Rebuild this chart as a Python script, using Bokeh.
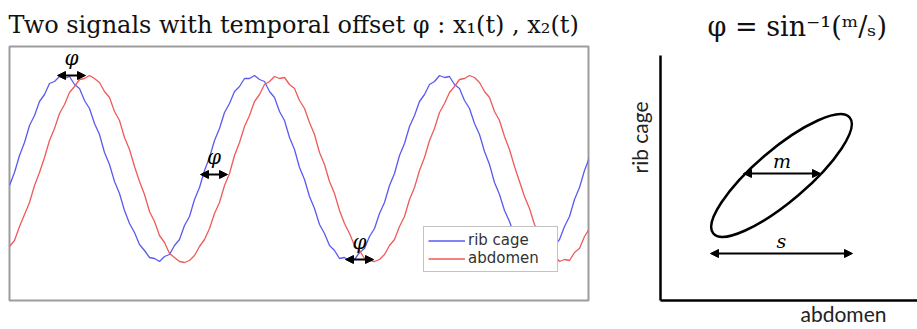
from math import pi
from bokeh.plotting import figure
from bokeh.models import Range1d, Label, Arrow, NormalHead, FixedTicker, Title
from bokeh.layouts import row
from bokeh.embed import file_html
from bokeh.resources import INLINE

# ---------------- data ----------------
# sample times (one sample every 5 time units)
t = list(range(0, 581, 5))

rib_cage = [
    -17, -4, 13, 26, 43, 53, 67, 74, 85, 87, 92, 90, 92, 84, 80, 68, 60, 45, 34, 16,
    4, -13, -25, -42, -55, -64, -76, -82, -89, -90, -93, -88, -86, -77, -71, -57, -48, -31,
    -19, -2, 11, 28, 40, 56, 65, 77, 82, 90, 90, 93, 89, 87, 77, 71, 57, 48, 31, 19,
    1, -11, -28, -40, -56, -65, -77, -82, -90, -89, -92, -91, -84, -80, -68, -60, -45, -34,
    -17, -5, 13, 25, 42, 53, 67, 74, 84, 87, 93, 91, 92, 84, 80, 68, 60, 45, 34, 17,
    4, -14, -26, -42, -53, -67, -74, -84, -87, -92, -90, -91, -86, -77, -71, -58, -48, -31,
    -19, -2, 11,
]

abdomen = [
    -78, -72, -58, -46, -34, -17, -4, 11, 28, 40, 55, 64, 76, 82, 89, 90, 93, 90, 86, 77,
    71, 57, 48, 31, 19, 2, -13, -26, -43, -53, -67, -74, -85, -89, -93, -94, -92, -87,
    -78, -71, -60, -45, -34, -17, -5, 13, 26, 42, 53, 67, 74, 84, 87, 92, 90, 91, 84, 80,
    68, 60, 46, 34, 16, 4, -13, -25, -42, -55, -65, -77, -82, -90, -92, -93, -91, -86,
    -77, -71, -58, -48, -31, -19, -2, 11, 28, 40, 56, 65, 76, 82, 89, 90, 93, 91, 86, 77,
    71, 57, 48, 32, 19, 2, -13, -28, -40, -56, -65, -76, -84, -87, -93, -91, -92, -84,
    -80, -68, -60,
]

# phase-offset markers on the time series: (t_start, t_end, level)
phi_marks = [(48, 76, 93), (191, 218, -6), (336, 364, -91)]

# Lissajous ellipse (abdomen vs rib cage) and its chords
ell_x, ell_y, ell_w, ell_h, ell_angle = 121, 125, 179, 52, 0.705
m_chord = (83, 160, 127)   # x0, x1, y
s_span = (50, 192, 47)     # x0, x1, y

BLUE = "#5a5af2"
RED = "#f05a5a"
SERIF = "DejaVu Serif"

# ---------------- left panel: time series ----------------
p = figure(width=600, height=329, output_backend="svg", toolbar_location=None,
           x_range=Range1d(0, 579), y_range=Range1d(-132, 122),
           x_axis_location=None, y_axis_location=None,
           min_border_left=9, min_border_right=12, min_border_top=46, min_border_bottom=29)
p.grid.visible = False
p.outline_line_color = "#9c9c9c"
p.outline_line_width = 2
p.background_fill_color = "white"
p.border_fill_color = "white"

p.title.text = "Two signals with temporal offset φ : x₁(t) , x₂(t)"
p.title.align = "left"
p.title.offset = -1
p.title.text_font = SERIF
p.title.text_font_style = "normal"
p.title.text_font_size = "24px"
p.title.text_color = "#111111"
p.title.standoff = 16

p.line(t, rib_cage, line_color=BLUE, line_width=1.3, legend_label="rib cage")
p.line(t, abdomen, line_color=RED, line_width=1.3, legend_label="abdomen")

for x0, x1, yv in phi_marks:
    p.add_layout(Arrow(x_start=x0, y_start=yv, x_end=x1, y_end=yv, line_width=2, line_color="black",
                       start=NormalHead(size=8, fill_color="black", line_color="black"),
                       end=NormalHead(size=8, fill_color="black", line_color="black")))
    p.add_layout(Label(x=(x0 + x1) / 2, y=yv + 6, text="φ", text_align="center",
                       text_baseline="bottom", text_font=SERIF,
                       text_font_style="italic", text_font_size="20px", text_color="black"))

lg = p.legend[0]
lg.location = (414, 28)
lg.border_line_color = "#888888"
lg.border_line_width = 1.5
lg.background_fill_color = "white"
lg.background_fill_alpha = 1
lg.label_text_font = "DejaVu Sans"
lg.label_text_font_size = "15px"
lg.label_text_color = "#333333"
lg.glyph_width = 37
lg.glyph_height = 15
lg.label_height = 15
lg.label_width = 85
lg.label_standoff = 3
lg.spacing = 0
lg.padding = 4
lg.margin = 0

# ---------------- right panel: abdomen vs rib cage ----------------
q = figure(width=317, height=329, output_backend="svg", toolbar_location=None,
           x_range=Range1d(0, 257), y_range=Range1d(0, 254),
           min_border_left=60, min_border_right=0, min_border_top=46, min_border_bottom=29)
q.grid.visible = False
q.outline_line_color = None
for ax in (q.xaxis[0], q.yaxis[0]):
    ax.ticker = FixedTicker(ticks=[])
    ax.axis_line_color = "black"
    ax.axis_line_width = 2.5
    ax.major_tick_line_color = None
    ax.minor_tick_line_color = None
    ax.major_tick_out = 0
    ax.major_tick_in = 0
    ax.major_label_standoff = 0
    ax.major_label_text_font_size = "0px"
q.yaxis[0].bounds = (0, 245)

q.title.text = "φ = sin⁻¹(ᵐ/ₛ)"
q.title.align = "left"
q.title.offset = 47
q.title.text_font = SERIF
q.title.text_font_style = "normal"
q.title.text_font_size = "27px"
q.title.text_color = "#111111"
q.title.standoff = 10

q.add_layout(Title(text="rib cage", align="left", offset=127, text_font="Lato",
                   text_font_size="21px", text_font_style="normal", text_color="#222222",
                   standoff=18), "left")
q.add_layout(Title(text="abdomen", align="left", offset=140, text_font="Lato",
                   text_font_size="21px", text_font_style="normal", text_color="#222222",
                   vertical_align="top", standoff=0), "below")

q.ellipse(x=[ell_x], y=[ell_y], width=[ell_w], height=[ell_h], angle=[ell_angle],
          fill_color=None, line_color="black", line_width=2.5)

for (x0, x1, yv), name in ((m_chord, "m"), (s_span, "s")):
    q.add_layout(Arrow(x_start=x0, y_start=yv, x_end=x1, y_end=yv, line_width=2, line_color="black",
                       start=NormalHead(size=8, fill_color="black", line_color="black"),
                       end=NormalHead(size=8, fill_color="black", line_color="black")))
    q.add_layout(Label(x=(x0 + x1) / 2, y=yv + 2, text=name, text_align="center",
                       text_baseline="bottom", text_font=SERIF,
                       text_font_style="italic", text_font_size="19px", text_color="black"))

layout = row(p, q)
open("out.html", "w").write(file_html(layout, INLINE))
